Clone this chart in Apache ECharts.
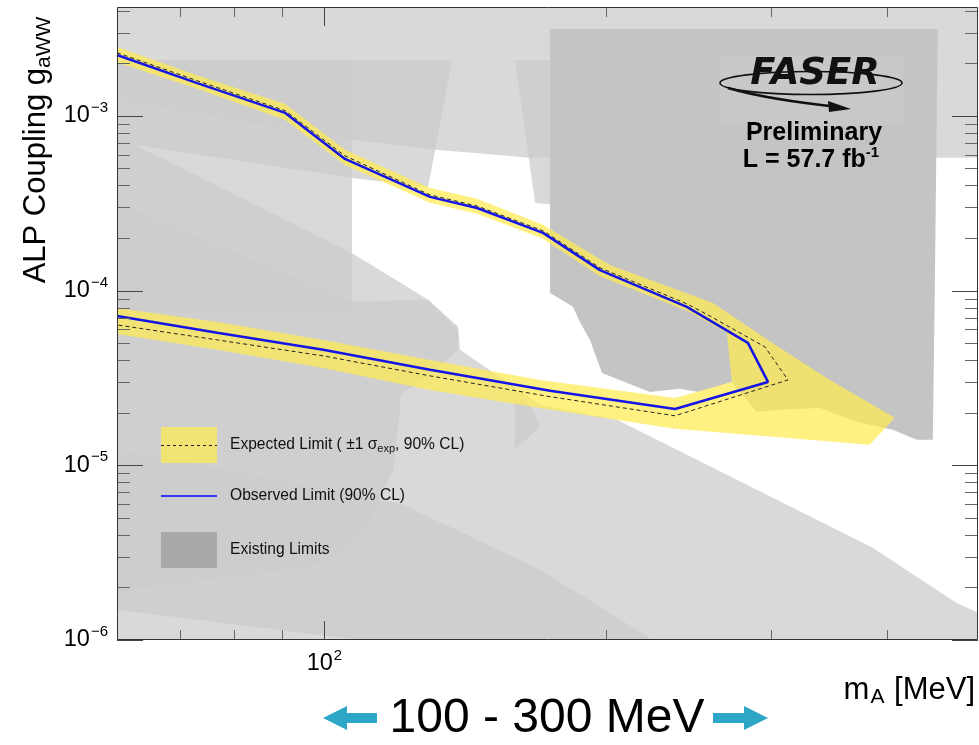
<!DOCTYPE html>
<html>
<head>
<meta charset="utf-8">
<script src="https://cdn.jsdelivr.net/npm/echarts@6.0.0/dist/echarts.min.js"></script>
<style>
  html, body { margin: 0; padding: 0; background: #ffffff; }
  #chart { width: 979px; height: 745px; }
</style>
</head>
<body>
<div id="chart"></div>
<script>
// ---- axis ranges and ticks ----
const massRange = [60, 500];            // m_A [MeV]
const couplingRange = [1e-6, 4.2e-3];   // g_aWW
const xMajorTicks = [100];
const xMinorTicks = [70, 80, 90, 200, 300, 400];
const yMajorTicks = [1e-6, 1e-5, 1e-4, 1e-3];
const yMinorTicks = [2e-6, 3e-6, 4e-6, 5e-6, 6e-6, 7e-6, 8e-6, 9e-6,
                     2e-5, 3e-5, 4e-5, 5e-5, 6e-5, 7e-5, 8e-5, 9e-5,
                     2e-4, 3e-4, 4e-4, 5e-4, 6e-4, 7e-4, 8e-4, 9e-4,
                     2e-3, 3e-3, 4e-3];

// ---- existing limits, [mass MeV, coupling] contours ----
const limitTopBand = [[60, 4.2e-3], [500, 4.2e-3], [500, 5.75e-4], [165.9, 5.75e-4],
                      [144.9, 6.13e-4], [131.3, 6.39e-4], [107.3, 7.28e-4], [60, 1.23e-3]];
const limitUpperLeft = [[60, 2.09e-3], [136.9, 2.09e-3], [129.1, 3.92e-4], [107, 4.41e-4],
                        [62.8, 6.82e-4], [60, 7.09e-4]];
const limitUpperMid = [[159.9, 2.09e-3], [197, 2.09e-3], [197, 2.9e-4], [168, 3.18e-4]];
const limitLowMass = [[60, 2.09e-3], [107, 2.09e-3], [107, 7.45e-5], [60, 7.45e-5]];
const limitBeamDump = [[60, 7.67e-4], [62.8, 6.82e-4], [107, 1.64e-4], [129.1, 8.85e-5],
                       [139, 6.2e-5], [139.6, 4.58e-5], [170.1, 2.22e-5], [205.5, 1.82e-5],
                       [250.3, 1.075e-5], [385.8, 3.37e-6], [474.4, 1.63e-6], [500, 1.43e-6],
                       [500, 1e-6], [60, 1e-6]];
const limitRound = [[60, 3.18e-4], [107, 8.62e-5], [129.1, 8.85e-5], [139, 5.96e-5],
                    [139, 4.58e-5], [129.7, 3.29e-5], [120.5, 2.53e-5], [120.5, 2.08e-5],
                    [118.5, 9.43e-6], [111.9, 4.88e-6], [104.7, 3.16e-6], [96.6, 2.63e-6],
                    [60, 1.89e-6]];
const limitLowWedge = [[60, 1.23e-5], [120.8, 6.02e-6], [170.1, 2.52e-6], [224.6, 1e-6],
                       [109.2, 1e-6], [60, 1.49e-6]];
const limitSmallWedge = [[159.9, 2.4e-5], [166, 2.2e-5], [170.1, 1.66e-5], [159.9, 1.23e-5]];
const limitKaon = [[174.3, 3.14e-3], [452.8, 3.14e-3], [449.4, 8.85e-5], [447.3, 1.4e-5],
                   [430, 1.4e-5], [405.2, 1.6e-5], [371, 1.77e-5], [338.7, 2.13e-5],
                   [307, 2.08e-5], [290, 2.02e-5], [272.8, 3.0e-5], [250.9, 2.63e-5],
                   [240, 2.74e-5], [222.9, 2.63e-5], [198.1, 3.38e-5], [192.3, 5.22e-5],
                   [187.6, 6.62e-5], [184.4, 8.07e-5], [174.3, 9.7e-5]];

// ---- FASER limits (closed contours, upper branch then lower branch) ----
const observedLimit = [[60, 2.23e-3], [73.1, 1.54e-3], [90.8, 1.04e-3], [105.2, 5.67e-4],
                       [129.7, 3.44e-4], [145.6, 2.97e-4], [171.3, 2.14e-4], [197.1, 1.31e-4],
                       [244.1, 8.07e-5], [283.7, 5.02e-5], [298.1, 3.0e-5], [237.1, 2.1e-5],
                       [174.3, 2.67e-5], [129.7, 3.52e-5], [99.7, 4.58e-5], [76.8, 5.73e-5],
                       [60, 7.16e-5]];
const expectedLimit = [[60, 2.3e-3], [73.1, 1.59e-3], [90.8, 1.07e-3], [105.2, 5.9e-4],
                       [129.7, 3.53e-4], [145.6, 3.05e-4], [171.3, 2.2e-4], [197.1, 1.35e-4],
                       [244.1, 8.4e-5], [258.3, 7.16e-5], [295.9, 4.76e-5], [313.1, 3.08e-5],
                       [237.1, 1.92e-5], [174.3, 2.47e-5], [129.7, 3.25e-5], [99.7, 4.23e-5],
                       [76.8, 5.22e-5], [60, 6.36e-5]];
const expectedPlusSigma = [[60, 2.48e-3], [73.1, 1.71e-3], [90.8, 1.17e-3], [105.2, 6.39e-4],
                           [129.7, 3.87e-4], [145.6, 3.35e-4], [171.3, 2.38e-4], [202, 1.4e-4],
                           [260.3, 8.5e-5], [307, 4.7e-5], [347.2, 3.08e-5], [407.3, 1.87e-5],
                           [383, 1.31e-5], [237.1, 1.62e-5], [170.1, 2.13e-5], [129.7, 2.7e-5],
                           [99.7, 3.61e-5], [76.8, 4.58e-5], [60, 5.65e-5]];
const expectedMinusSigma = [[60, 2.03e-3], [73.1, 1.43e-3], [90.8, 9.47e-4], [105.2, 5.24e-4],
                            [129.7, 3.18e-4], [145.6, 2.75e-4], [171.3, 1.98e-4], [197.1, 1.21e-4],
                            [245.9, 7.55e-5], [269.4, 5.73e-5], [272.8, 3.0e-5], [237.1, 2.43e-5],
                            [170.1, 3.08e-5], [129.7, 4.01e-5], [99.7, 5.22e-5], [76.8, 6.62e-5],
                            [60, 7.96e-5]];

// ---- styling ----
const FONT = '"Liberation Sans", Arial, Helvetica, sans-serif';
const LAYER_FILL = 'rgba(204,204,204,0.74)';
const DARK_FILL = '#c4c4c4';
const BAND_FILL = 'rgba(255,236,80,0.72)';
const OBS_COLOR = '#1414e6';

function isDecade(v) {
  const l = Math.log10(v);
  return Math.abs(l - Math.round(l)) < 1e-6;
}
function powerLabel(v) {
  if (!isDecade(v)) return '';
  const e = Math.round(Math.log10(v));
  return '{b|10}{s|' + (e < 0 ? '\u2212' + (-e) : String(e)) + '}';
}
const labelRich = {
  b: { fontFamily: FONT, fontSize: 23.5, color: '#000' },
  s: { fontFamily: FONT, fontSize: 15, color: '#000', padding: [0, 0, 16, 1] }
};

// filled polygon drawn through the axes
function areaSeries(points, fill) {
  return {
    type: 'custom', coordinateSystem: 'cartesian2d', silent: true, clip: true,
    data: points,
    renderItem(params, api) {
      if (params.dataIndex !== 0) return null;
      return { type: 'polygon', shape: { points: points.map(p => api.coord(p)) },
               style: { fill: fill } };
    }
  };
}

function contourLine(points, color, width, dash) {
  return {
    type: 'line', data: points, showSymbol: false, symbol: 'none', silent: true,
    lineStyle: { color: color, width: width, type: dash || 'solid' },
    z: 5
  };
}

// tick marks on both sides of the frame, pointing inwards
function tickSeries(values, dir, len, color) {
  const data = values.map(v => dir === 'x' ? [v, couplingRange[0]] : [massRange[0], v]);
  return {
    type: 'custom', coordinateSystem: 'cartesian2d', silent: true, clip: false, z: 20,
    data: data,
    renderItem(params, api) {
      const cs = params.coordSys;
      const p = api.coord([api.value(0), api.value(1)]);
      const st = { stroke: color, lineWidth: 1 };
      if (dir === 'x') {
        const x = Math.round(p[0]) + 0.5;
        const b = cs.y + cs.height, t = cs.y;
        return { type: 'group', children: [
          { type: 'line', shape: { x1: x, y1: b, x2: x, y2: b - len }, style: st },
          { type: 'line', shape: { x1: x, y1: t, x2: x, y2: t + len }, style: st }
        ]};
      }
      const y = Math.round(p[1]) + 0.5;
      const l = cs.x, r = cs.x + cs.width;
      return { type: 'group', children: [
        { type: 'line', shape: { x1: l, y1: y, x2: l + len, y2: y }, style: st },
        { type: 'line', shape: { x1: r, y1: y, x2: r - len, y2: y }, style: st }
      ]};
    }
  };
}

const frameSeries = {
  type: 'custom', coordinateSystem: 'cartesian2d', silent: true, clip: false, z: 21,
  data: [[massRange[0], couplingRange[0]]],
  renderItem(params) {
    const cs = params.coordSys;
    return { type: 'rect',
      shape: { x: cs.x + 0.5, y: cs.y + 0.5, width: cs.width - 1, height: cs.height - 1 },
      style: { fill: null, stroke: '#333', lineWidth: 1 } };
  }
};

const bandPolygon = expectedPlusSigma.concat(expectedMinusSigma.slice().reverse());

const chart = echarts.init(document.getElementById('chart'), null, { renderer: 'canvas' });
chart.setOption({
  animation: false,
  backgroundColor: '#ffffff',
  grid: { left: 117, top: 7, right: 1, bottom: 105, show: false },
  xAxis: {
    type: 'log', logBase: 10, min: massRange[0], max: massRange[1],
    axisLine: { show: false }, axisTick: { show: false }, splitLine: { show: false },
    axisLabel: { margin: 8, formatter: powerLabel, rich: labelRich, showMinLabel: false, showMaxLabel: false }
  },
  yAxis: {
    type: 'log', logBase: 10, min: couplingRange[0], max: couplingRange[1],
    axisLine: { show: false }, axisTick: { show: false }, splitLine: { show: false },
    axisLabel: { margin: 9, formatter: powerLabel, rich: labelRich, showMaxLabel: false }
  },
  series: [
    areaSeries(limitTopBand, LAYER_FILL),
    areaSeries(limitUpperLeft, LAYER_FILL),
    areaSeries(limitUpperMid, LAYER_FILL),
    areaSeries(limitLowMass, LAYER_FILL),
    areaSeries(limitBeamDump, LAYER_FILL),
    areaSeries(limitRound, LAYER_FILL),
    areaSeries(limitLowWedge, LAYER_FILL),
    areaSeries(limitSmallWedge, LAYER_FILL),
    areaSeries(limitKaon, DARK_FILL),
    areaSeries(bandPolygon, BAND_FILL),
    contourLine(expectedLimit, '#222', 1, [4, 3]),
    contourLine(observedLimit, OBS_COLOR, 2.5),
    tickSeries(xMajorTicks, 'x', 19, '#444'),
    tickSeries(xMinorTicks, 'x', 10, '#666'),
    tickSeries(yMajorTicks, 'y', 26, '#444'),
    tickSeries(yMinorTicks, 'y', 13, '#666'),
    frameSeries
  ],
  graphic: [
    // y-axis title
    { type: 'text', x: 36, y: 150, rotation: Math.PI / 2, z: 30,
      style: { text: '{m|ALP Coupling g}{s|aWW}', align: 'center', verticalAlign: 'middle',
        rich: { m: { fontFamily: FONT, fontSize: 31, fill: '#000' },
                s: { fontFamily: FONT, fontSize: 21, fill: '#000', padding: [16, 0, 0, 0] } } } },
    // x-axis title
    { type: 'text', x: 975, y: 690, z: 30,
      style: { text: '{m|m}{s|A}{m| [MeV]}', align: 'right', verticalAlign: 'middle',
        rich: { m: { fontFamily: FONT, fontSize: 31, fill: '#000' },
                s: { fontFamily: FONT, fontSize: 21, fill: '#000', padding: [14, 1, 0, 1] } } } },
    // FASER logo
    { type: 'rect', shape: { x: 720, y: 55, width: 183, height: 70 }, z: 25,
      style: { fill: 'rgba(255,255,255,0.07)' } },
    { type: 'ellipse', shape: { cx: 811, cy: 83, rx: 91, ry: 11.5 }, z: 26,
      style: { fill: null, stroke: '#111', lineWidth: 1.6 } },
    { type: 'text', x: 815, y: 74, z: 27,
      style: { text: 'FASER', align: 'center', verticalAlign: 'middle',
        font: 'italic 900 37px "DejaVu Sans", sans-serif', fill: '#111' } },
    { type: 'bezierCurve', shape: { x1: 728, y1: 88, x2: 840, y2: 107, cpx1: 770, cpy1: 100 }, z: 27,
      style: { stroke: '#111', lineWidth: 2.6, fill: null } },
    { type: 'polygon', shape: { points: [[828, 101], [851, 109], [829, 112]] }, z: 27,
      style: { fill: '#111' } },
    { type: 'text', x: 814, y: 133, z: 27,
      style: { text: 'Preliminary', align: 'center', verticalAlign: 'middle',
        font: 'bold 25px ' + FONT, fill: '#000' } },
    { type: 'text', x: 811, y: 160, z: 27,
      style: { text: '{m|L = 57.7 fb}{s|-1}', align: 'center', verticalAlign: 'middle',
        rich: { m: { fontFamily: FONT, fontWeight: 'bold', fontSize: 25, fill: '#000' },
                s: { fontFamily: FONT, fontWeight: 'bold', fontSize: 15, fill: '#000', padding: [0, 0, 15, 0] } } } },
    // legend
    { type: 'rect', shape: { x: 161, y: 427, width: 56, height: 36 }, z: 25,
      style: { fill: BAND_FILL } },
    { type: 'line', shape: { x1: 161, y1: 445.5, x2: 217, y2: 445.5 }, z: 26,
      style: { stroke: '#222', lineWidth: 1, lineDash: [3, 3] } },
    { type: 'text', x: 230, y: 445, z: 26,
      style: { text: '{m|Expected Limit ( \u00b11 \u03c3}{s|exp}{m|, 90% CL)}', verticalAlign: 'middle',
        rich: { m: { fontFamily: FONT, fontSize: 15.6, fill: '#111' },
                s: { fontFamily: FONT, fontSize: 11, fill: '#111', padding: [8, 0, 0, 0] } } } },
    { type: 'line', shape: { x1: 161, y1: 496, x2: 217, y2: 496 }, z: 26,
      style: { stroke: '#3535f0', lineWidth: 2 } },
    { type: 'text', x: 230, y: 496, z: 26,
      style: { text: 'Observed Limit (90% CL)', verticalAlign: 'middle',
        font: '15.6px ' + FONT, fill: '#111' } },
    { type: 'rect', shape: { x: 161, y: 532, width: 56, height: 36 }, z: 25,
      style: { fill: '#a9a9a9' } },
    { type: 'text', x: 230, y: 550, z: 26,
      style: { text: 'Existing Limits', verticalAlign: 'middle',
        font: '15.6px ' + FONT, fill: '#111' } },
    // mass window caption with arrows
    { type: 'polygon', z: 30,
      shape: { points: [[323, 718], [347, 706], [347, 713], [377, 713], [377, 723], [347, 723], [347, 730]] },
      style: { fill: '#2ea6c8' } },
    { type: 'polygon', z: 30,
      shape: { points: [[768, 718], [744, 706], [744, 713], [713, 713], [713, 723], [744, 723], [744, 730]] },
      style: { fill: '#2ea6c8' } },
    { type: 'text', x: 547, y: 719, z: 30,
      style: { text: '100 - 300 MeV', align: 'center', verticalAlign: 'middle',
        font: '48px ' + FONT, fill: '#000' } }
  ]
});
</script>
</body>
</html>
